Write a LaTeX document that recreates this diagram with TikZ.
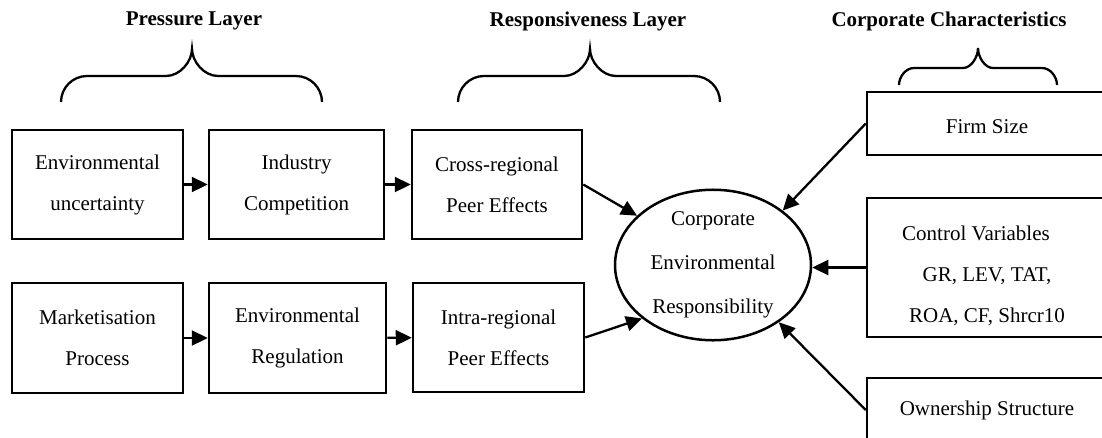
\documentclass[tikz,border=0pt]{standalone}
\usepackage{fontspec}
\setmainfont{Liberation Serif}
\usetikzlibrary{arrows.meta,shapes.geometric}
\tikzset{
  box/.style={draw, line width=2.5pt, inner sep=0pt, align=center, font=\fontsize{21}{41}\selectfont},
  oval/.style={draw, ellipse, line width=2.5pt, inner sep=0pt, align=center, font=\fontsize{21}{44}\selectfont},
  title/.style={inner sep=0pt, font=\fontsize{21}{25}\selectfont\bfseries},
  arr/.style={line width=2.3pt, -{Triangle[length=16pt,width=15pt]}},
  brace/.style={line width=2.3pt}
}
\newcommand\mybrace[7]{% L T R E H P r
  \draw[brace] (#1,#4) .. controls (#1,{#4-0.55*#7}) and ({#1+0.45*#7},#5) .. ({#1+#7},#5)
   -- ({#2-#7},#5) .. controls ({#2-0.45*#7},#5) and (#2,{#6+0.45*(#5-#6)}) .. (#2,#6)
   .. controls (#2,{#6+0.45*(#5-#6)}) and ({#2+0.45*#7},#5) .. ({#2+#7},#5)
   -- ({#3-#7},#5) .. controls ({#3-0.45*#7},#5) and (#3,{#4-0.55*#7}) .. (#3,#4);}
\begin{document}
\begin{tikzpicture}[x=1pt,y=-1pt]
\path[use as bounding box, clip] (0,0) rectangle (1102,437);
\fill[white] (0,0) rectangle (1102,437);
% titles
\node[title] (t1) at (194,21) {Pressure Layer};
\node[title] (t2) at (588,21) {Responsiveness Layer};
\node[title] (t3) at (949,21) {Corporate Characteristics};
% braces
\mybrace{61}{192}{322}{102}{76}{49}{26}
\mybrace{458}{590}{720}{102}{76}{49}{26}
\mybrace{899}{978}{1057}{85}{68}{48}{15}
% boxes
\node[box, minimum width=171pt, minimum height=109pt] (b1) at (97.5,184.5) {Environmental\\uncertainty};
\node[box, minimum width=175pt, minimum height=109pt] (b2) at (296.5,184.5) {Industry\\Competition};
\node[box, minimum width=170pt, minimum height=109pt] (b3) at (497,184.5) {Cross-regional\\Peer Effects};
\node[box, minimum width=171pt, minimum height=110pt] (b4) at (97.5,338) {Marketisation\\Process};
\node[box, minimum width=177pt, minimum height=110pt] (b5) at (297.5,338) {Environmental\\Regulation};
\node[box, minimum width=171pt, minimum height=109pt] (b6) at (498.5,337.5) {Intra-regional\\Peer Effects};
\node[oval, minimum width=196pt, minimum height=144pt] (cer) at (713,265) {Corporate\\Environmental\\Responsibility};
\node[box, minimum width=240pt, minimum height=63pt] (fs) at (987,123.5) {\rule{0pt}{21pt}Firm Size};
\node[box, minimum width=240pt, minimum height=139pt] (cv) at (987,267.5) {\rule{0pt}{31pt}Control Variables\kern22pt\\GR, LEV, TAT,\\ROA, CF, Shrcr10};
\node[box, minimum width=240pt, minimum height=64pt] (os) at (987,410) {Ownership Structure};
% connectors
\draw[arr] (b1) -- (b2);
\draw[arr] (b2) -- (b3);
\draw[arr] (b4) -- (b5);
\draw[arr] (b5) -- (b6);
\draw[arr] (b3.east) -- (cer.147);
\draw[arr] (b6.east) -- (cer.217);
\draw[arr] (fs.west) -- (cer.38);
\draw[arr] (cv.west) -- (cv.west -| cer.east);
\draw[arr] (os.west) -- (cer.-41);
\end{tikzpicture}
\end{document}
